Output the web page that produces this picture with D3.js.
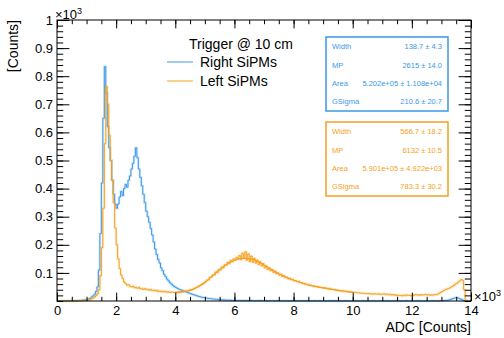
<!DOCTYPE html>
<html>
<head>
<meta charset="utf-8">
<script src="https://cdn.jsdelivr.net/npm/d3@7"></script>
<style>
  body { margin: 0; background: #fff; }
  text { font-family: "Liberation Sans", Arial, Helvetica, sans-serif; fill: #000; }
</style>
</head>
<body>
<script>
// histogram binning (x10^3 ADC counts), 0.05 wide bins from 0 to 14
var binWidth = 0.05;
var xMin = 0, xMax = 14;

// Right SiPMs, counts per bin (x10^3), one row per unit of x
var rightCounts = [
  0,0,0,0,0,0,0,0,0,0,0.001,0,0.001,0.001,0.001,0.002,0.002,0.003,0.003,0.004,
  0.005,0.007,0.010,0.014,0.018,0.024,0.034,0.050,0.110,0.240,0.420,0.650,0.834,0.740,0.620,0.545,0.500,0.430,0.380,0.345,
  0.330,0.345,0.370,0.390,0.375,0.400,0.415,0.405,0.430,0.445,0.470,0.490,0.515,0.545,0.510,0.470,0.440,0.410,0.380,0.350,
  0.320,0.300,0.280,0.258,0.235,0.210,0.185,0.165,0.148,0.135,0.118,0.108,0.095,0.087,0.078,0.072,0.065,0.060,0.055,0.051,
  0.048,0.045,0.042,0.040,0.038,0.036,0.034,0.032,0.030,0.028,0.026,0.024,0.022,0.021,0.019,0.017,0.016,0.014,0.013,0.012,
  0.011,0.010,0.009,0.009,0.008,0.007,0.007,0.006,0.006,0.005,0.005,0.004,0.004,0.004,0.003,0.003,0.003,0.003,0.002,0.002,
  0.002,0.002,0.002,0.002,0.002,0.001,0.002,0.001,0.002,0.001,0.001,0.002,0.001,0.001,0.001,0.001,0.002,0.001,0.001,0.001,
  0.001,0.001,0,0.001,0.001,0.001,0,0.001,0.001,0,0.001,0,0.001,0.001,0,0.001,0,0.001,0,0.001,
  0,0.001,0,0.001,0,0,0.001,0,0.001,0,0,0.001,0,0,0.001,0,0,0.001,0,0,
  0.001,0,0,0,0.001,0,0,0.001,0,0,0,0.001,0,0,0,0.001,0,0,0,0,
  0,0,0.001,0,0,0,0,0.001,0,0,0,0,0,0.001,0,0,0,0,0.001,0,
  0,0,0,0.001,0,0,0,0,0,0.001,0,0,0,0,0,0,0.001,0,0,0,
  0,0,0,0,0.001,0,0,0,0,0,0.001,0,0,0,0.001,0,0,0.001,0,0.001,
  0.001,0.001,0.002,0.002,0.003,0.004,0.006,0.008,0.010,0.011,0.012,0.010,0.008,0.006,0.003,0.001,0,0,0,0
];

// Left SiPMs
var leftCounts = [
  0,0,0,0,0,0,0,0,0,0,0,0,0,0,0.001,0.001,0.001,0.002,0.002,0.003,
  0.003,0.004,0.006,0.008,0.010,0.014,0.019,0.026,0.040,0.090,0.190,0.330,0.560,0.763,0.700,0.590,0.500,0.430,0.350,0.260,
  0.200,0.150,0.115,0.092,0.080,0.068,0.062,0.056,0.058,0.052,0.050,0.053,0.047,0.049,0.045,0.048,0.043,0.045,0.041,0.044,
  0.040,0.042,0.038,0.041,0.037,0.039,0.036,0.038,0.034,0.036,0.033,0.035,0.032,0.034,0.031,0.033,0.030,0.032,0.031,0.030,
  0.031,0.029,0.032,0.030,0.033,0.032,0.035,0.034,0.037,0.038,0.041,0.040,0.044,0.046,0.048,0.051,0.054,0.057,0.060,0.064,
  0.068,0.074,0.075,0.084,0.085,0.093,0.092,0.103,0.101,0.112,0.110,0.121,0.118,0.129,0.127,0.138,0.133,0.145,0.140,0.150,
  0.146,0.155,0.150,0.162,0.148,0.170,0.152,0.175,0.145,0.168,0.140,0.160,0.138,0.152,0.135,0.146,0.130,0.140,0.125,0.133,
  0.118,0.125,0.112,0.118,0.108,0.112,0.102,0.106,0.097,0.100,0.092,0.095,0.087,0.090,0.083,0.085,0.079,0.081,0.076,0.077,
  0.072,0.073,0.069,0.070,0.066,0.066,0.062,0.063,0.059,0.059,0.056,0.057,0.054,0.054,0.052,0.052,0.050,0.050,0.048,0.048,
  0.046,0.047,0.044,0.045,0.042,0.043,0.041,0.041,0.039,0.039,0.038,0.037,0.036,0.036,0.034,0.035,0.033,0.034,0.032,0.032,
  0.031,0.031,0.030,0.029,0.029,0.028,0.028,0.027,0.027,0.026,0.027,0.025,0.026,0.024,0.026,0.025,0.024,0.026,0.023,0.025,
  0.024,0.026,0.023,0.025,0.022,0.024,0.021,0.023,0.020,0.022,0.019,0.021,0.020,0.018,0.021,0.019,0.022,0.020,0.021,0.019,
  0.022,0.020,0.023,0.021,0.022,0.020,0.023,0.021,0.022,0.024,0.021,0.023,0.020,0.022,0.021,0.023,0.022,0.024,0.027,0.030,
  0.034,0.037,0.040,0.042,0.044,0.046,0.049,0.052,0.055,0.060,0.063,0.068,0.072,0.076,0.074,0.040,0.002,0,0,0
];

// smooth fitted curve on the left SiPMs hump
var leftFitX = [4.0, 4.5, 5.0, 5.5, 6.0, 6.3, 6.6, 7.0, 7.5, 8.0, 8.5, 9.0, 9.5, 10.0];
var leftFitY = [0.031, 0.038, 0.067, 0.112, 0.145, 0.152, 0.149, 0.128, 0.097, 0.074, 0.057, 0.047, 0.038, 0.031];

var yTickValues = [0.1, 0.2, 0.3, 0.4, 0.5, 0.6, 0.7, 0.8, 0.9, 1];
var xTickValues = [0, 2, 4, 6, 8, 10, 12, 14];

var statLabels = ["Width", "MP", "Area", "GSigma"];
var rightStats = ["138.7 \u00b1 4.3", "2615 \u00b1 14.0", "5.202e+05 \u00b1 1.108e+04", "210.6 \u00b1 20.7"];
var leftStats = ["566.7 \u00b1 18.2", "6132 \u00b1 10.5", "5.901e+05 \u00b1 4.922e+03", "783.3 \u00b1 30.2"];

var blue = "#3a98e6", orange = "#f5a020";

var W = 504, H = 338;
var frame = {left: 57, right: 471, top: 20, bottom: 301};

var svg = d3.select("body").append("svg")
    .attr("width", W)
    .attr("height", H);

var x = d3.scaleLinear().domain([xMin, xMax]).range([frame.left, frame.right]);
var y = d3.scaleLinear().domain([0, 1]).range([frame.bottom, frame.top]);

// step line through bin edges
function histPoints(counts){
  var pts = counts.map(function(v, i){ return [xMin + i*binWidth, v]; });
  pts.push([xMax, counts[counts.length-1]]);
  return pts;
}

var step = d3.line()
    .curve(d3.curveStepAfter)
    .x(function(d){ return x(d[0]); })
    .y(function(d){ return y(d[1]); });

var plot = svg.append("g");

[[rightCounts, blue], [leftCounts, orange]].forEach(function(s){
  var pts = histPoints(s[0]);
  // light halo like the error band in the original
  plot.append("path")
      .attr("d", step(pts))
      .attr("fill", "none")
      .attr("stroke", s[1])
      .attr("stroke-opacity", 0.2)
      .attr("stroke-width", 2.6);
  plot.append("path")
      .attr("d", step(pts))
      .attr("fill", "none")
      .attr("stroke", s[1])
      .attr("stroke-width", 1);
});

var fitLine = d3.line()
    .curve(d3.curveMonotoneX)
    .x(function(d, i){ return x(leftFitX[i]); })
    .y(function(d){ return y(d); });

plot.append("path")
    .attr("d", fitLine(leftFitY))
    .attr("fill", "none")
    .attr("stroke", orange)
    .attr("stroke-width", 1.2);

// axes: ROOT style, ticks pointing inwards on all four sides
var xMinor = d3.range(0, 14.01, 0.5);
var yMinor = d3.range(0, 1.001, 0.02);

function noDomain(g){ g.select(".domain").remove(); }

svg.append("g")
    .attr("transform", "translate(0," + frame.bottom + ")")
    .call(d3.axisBottom(x).tickValues(xMinor).tickSize(-4.2).tickFormat(""))
    .call(noDomain);
svg.append("g")
    .attr("transform", "translate(0," + frame.bottom + ")")
    .call(d3.axisBottom(x).tickValues(xTickValues).tickSizeInner(-8.4).tickSizeOuter(0).tickPadding(5).tickFormat(d3.format("d")))
    .call(noDomain)
    .selectAll("text").style("font-size", "13px");

svg.append("g")
    .attr("transform", "translate(0," + frame.top + ")")
    .call(d3.axisTop(x).tickValues(xMinor).tickSize(-4.2).tickFormat(""))
    .call(noDomain);
svg.append("g")
    .attr("transform", "translate(0," + frame.top + ")")
    .call(d3.axisTop(x).tickValues(xTickValues).tickSize(-8.4).tickFormat(""))
    .call(noDomain);

svg.append("g")
    .attr("transform", "translate(" + frame.left + ",0)")
    .call(d3.axisLeft(y).tickValues(yMinor).tickSize(-6.2).tickFormat(""))
    .call(noDomain);
svg.append("g")
    .attr("transform", "translate(" + frame.left + ",0)")
    .call(d3.axisLeft(y).tickValues(yTickValues).tickSizeInner(-12.4).tickSizeOuter(0).tickPadding(4)
      .tickFormat(function(v){ return v === 1 ? "1" : d3.format(".1f")(v); }))
    .call(noDomain)
    .selectAll("text").style("font-size", "13px");

svg.append("g")
    .attr("transform", "translate(" + frame.right + ",0)")
    .call(d3.axisRight(y).tickValues(yMinor).tickSize(-6.2).tickFormat(""))
    .call(noDomain);
svg.append("g")
    .attr("transform", "translate(" + frame.right + ",0)")
    .call(d3.axisRight(y).tickValues(yTickValues).tickSize(-12.4).tickFormat(""))
    .call(noDomain);

svg.selectAll(".tick line").attr("stroke", "#000");

svg.append("rect")
    .attr("x", frame.left).attr("y", frame.top)
    .attr("width", frame.right - frame.left)
    .attr("height", frame.bottom - frame.top)
    .attr("fill", "none")
    .attr("stroke", "#000")
    .attr("stroke-width", 1);

// axis titles and exponent labels
svg.append("text")
    .attr("x", frame.right).attr("y", 332)
    .attr("text-anchor", "end")
    .style("font-size", "14px")
    .text("ADC [Counts]");

svg.append("text")
    .attr("transform", "translate(18," + frame.top + ") rotate(-90)")
    .attr("text-anchor", "end")
    .style("font-size", "14px")
    .text("[Counts]");

function exponent(px, py){
  var t = svg.append("text").attr("x", px).attr("y", py).style("font-size", "13px");
  t.append("tspan").text("\u00d710");
  t.append("tspan").attr("dy", -5).style("font-size", "9px").text("3");
}
exponent(55, 19);
exponent(474, 301);

// legend
svg.append("text")
    .attr("x", 241).attr("y", 49)
    .attr("text-anchor", "middle")
    .style("font-size", "14px")
    .text("Trigger @ 10 cm");

[["Right SiPMs", blue, 62], ["Left SiPMs", orange, 81]].forEach(function(l){
  svg.append("line")
      .attr("x1", 167).attr("x2", 193)
      .attr("y1", l[2]).attr("y2", l[2])
      .attr("stroke", l[1]).attr("stroke-width", 1);
  svg.append("text")
      .attr("x", 200).attr("y", l[2] + 5)
      .style("font-size", "14px")
      .text(l[0]);
});

// fit statistics boxes
function statBox(top, values, color){
  svg.append("rect")
      .attr("x", 326).attr("y", top)
      .attr("width", 122).attr("height", 74)
      .attr("fill", "#fff")
      .attr("stroke", color)
      .attr("stroke-width", 1.5);
  statLabels.forEach(function(lab, i){
    var yy = top + 12.3 + i*18.2;
    svg.append("text")
        .attr("x", 332).attr("y", yy)
        .style("font-size", "7.5px").style("fill", color)
        .text(lab);
    svg.append("text")
        .attr("x", 442).attr("y", yy)
        .attr("text-anchor", "end")
        .style("font-size", "7.5px").style("fill", color)
        .text(values[i]);
  });
}
statBox(37, rightStats, blue);
statBox(122, leftStats, orange);
</script>
</body>
</html>
